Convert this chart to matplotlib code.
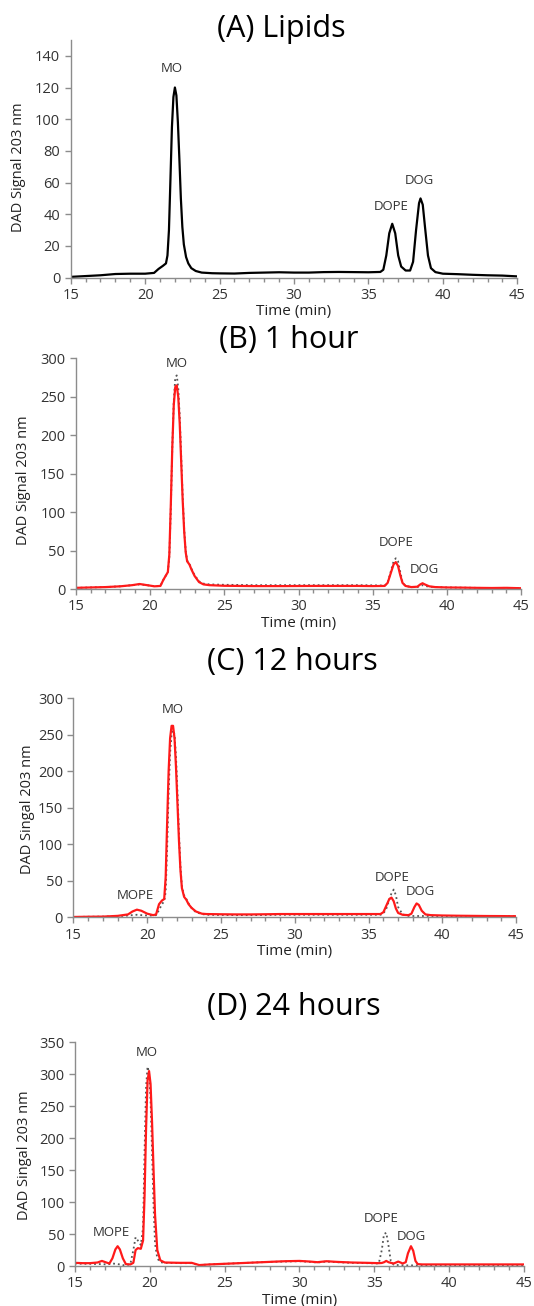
import matplotlib
matplotlib.use("Agg")
import matplotlib.pyplot as plt
from matplotlib.ticker import MultipleLocator

plt.rcParams['font.family'] = ['Open Sans', 'DejaVu Sans']

# (A) lipids, black trace
a_t = [15, 16, 17, 18, 19, 20, 20.6, 20.9, 21.2, 21.4, 21.5, 21.6, 21.7, 21.8, 21.9, 22.0,
       22.1, 22.2, 22.3, 22.4, 22.5, 22.6, 22.75, 22.9, 23.1, 23.4, 23.8, 24.5, 25, 26, 27,
       28, 29, 30, 31, 32, 33, 34, 35, 35.8, 36.0, 36.2, 36.4, 36.6, 36.8, 37.0, 37.2, 37.5,
       37.8, 38.0, 38.2, 38.4, 38.5, 38.65, 38.8, 39.0, 39.2, 39.5, 40, 41, 42, 43, 44, 45]
a_y = [0.5, 1.0, 1.5, 2.3, 2.5, 2.5, 3.0, 5.5, 7.5, 9, 14, 30, 62, 95, 114, 120,
       115, 98, 75, 50, 32, 21, 13, 9, 6, 4.2, 3.2, 2.8, 2.7, 2.6, 3,
       3.2, 3.4, 3.2, 3.2, 3.5, 3.6, 3.5, 3.4, 3.6, 5, 14, 28, 34, 28, 14, 7, 4.5,
       4.5, 10, 30, 47, 50, 46, 32, 14, 6, 3.5, 2.5, 2.2, 1.8, 1.5, 1.3, 0.8]

# (B) 1 hour
b_t = [15, 16, 17, 18, 18.8, 19.3, 19.8, 20.3, 20.7, 20.9, 21.05, 21.2, 21.3, 21.4, 21.5,
       21.6, 21.7, 21.8, 21.9, 22.0, 22.1, 22.2, 22.3, 22.4, 22.5, 22.65, 22.8, 23.0, 23.3,
       23.6, 24, 25, 26, 27, 28, 29, 30, 31, 32, 33, 34, 35, 35.8, 36.0, 36.2, 36.4, 36.55,
       36.7, 36.85, 37.0, 37.2, 37.6, 38.0, 38.2, 38.35, 38.5, 38.8, 39.2, 40, 41, 42, 43, 44, 45]
b_red = [1.5, 2, 2.5, 3.5, 5, 6.5, 5, 3.5, 4, 12, 17, 22, 45, 110, 185,
         240, 263, 265, 250, 215, 165, 115, 75, 48, 36, 32, 25, 17, 9,
         6, 5, 4.2, 4, 3.8, 3.8, 3.8, 3.9, 4, 4, 4, 4, 3.8, 4, 8, 20, 32, 35,
         30, 18, 8, 4, 2.5, 3, 6, 7.5, 6, 3.5, 2.5, 2, 1.8, 1.5, 1.3, 1.5, 1]
b_gray = [1.5, 2, 2.5, 3.5, 5, 6, 5, 3.5, 4, 12, 17, 22, 42, 105, 185,
          245, 275, 278, 262, 225, 172, 120, 78, 50, 37, 33, 26, 18, 10,
          7, 6, 5.5, 5.3, 5, 5, 5, 5, 5, 5, 5, 5, 4.8, 4.5, 8, 22, 36, 40,
          36, 22, 9, 4, 2.5, 2.5, 4, 5, 4, 3, 2.5, 2, 1.8, 1.5, 1.3, 1.5, 1]

# (C) 12 hours
c_t = [15, 16, 17, 18, 18.7, 19.0, 19.3, 19.6, 20.0, 20.4, 20.6, 20.8, 21.0, 21.15, 21.25,
       21.35, 21.45, 21.55, 21.65, 21.75, 21.85, 21.95, 22.05, 22.15, 22.25, 22.35, 22.5, 22.65,
       22.8, 23.0, 23.3, 23.7, 24, 25, 26, 27, 28, 29, 30, 31, 32, 33, 34, 35, 35.8, 36.0,
       36.2, 36.4, 36.55, 36.7, 36.85, 37.0, 37.3, 37.7, 37.9, 38.1, 38.25, 38.4, 38.6, 38.85,
       39.2, 40, 41, 42, 43, 44, 45]
c_red = [0.5, 0.8, 1, 2, 4, 8, 10.5, 9, 5, 3, 4, 18, 23, 25, 55,
         130, 200, 245, 262, 262, 245, 205, 155, 105, 65, 40, 28, 24,
         18, 13, 8, 5, 4.5, 4.2, 4, 4, 4.2, 4.5, 4.5, 4.5, 4.5, 4.5, 4.5, 4.5, 4.5, 7,
         16, 25, 27, 22, 12, 6, 3.5, 3, 5, 14, 19, 17, 9, 4,
         3, 2.5, 2.2, 2, 1.8, 1.7, 1.5]
c_gray = [0.5, 0.8, 1, 1.5, 2.5, 3, 3.5, 3, 2.5, 2.5, 3, 10, 18, 22, 35,
          95, 170, 225, 250, 256, 250, 220, 170, 115, 70, 42, 30, 25,
          19, 13, 7, 4.5, 3.5, 3.2, 3, 3, 3.2, 3.5, 3.5, 3.5, 3.5, 3.5, 3.5, 3.5, 3.5, 5,
          12, 24, 33, 38, 30, 14, 4, 2, 1.8, 1.8, 1.8, 1.8, 1.8, 1.8,
          1.8, 1.8, 1.8, 1.8, 1.8, 1.8, 1.5]

# (D) 24 hours
d_t = [15, 15.5, 16, 16.5, 16.8, 17.1, 17.3, 17.5, 17.7, 17.85, 18.0, 18.2, 18.4, 18.7,
       18.9, 19.05, 19.2, 19.4, 19.55, 19.65, 19.75, 19.85, 19.95, 20.05, 20.15, 20.25, 20.35,
       20.5, 20.7, 21.0, 22, 22.8, 23.3, 24, 25, 26, 27, 28, 29, 30, 30.7, 31.2, 31.8, 32.5,
       33.5, 34.5, 35.3, 35.5, 35.65, 35.8, 35.95, 36.1, 36.3, 36.6, 36.9, 37.1, 37.25, 37.45,
       37.6, 37.75, 37.9, 38.2, 39, 40, 41, 42, 43, 44, 45]
d_red = [5, 4.5, 4.5, 5.5, 8, 5.5, 4, 12, 26, 31, 26, 12, 3, 2.5,
         5, 25, 28, 27, 40, 110, 215, 290, 305, 285, 225, 150, 80,
         25, 9, 5.5, 5, 5, 1.5, 2.5, 3.5, 4.5, 5.5, 6.5, 7.5, 8, 7, 6, 7.5, 6.5,
         5.5, 5, 4.5, 4.8, 6, 8, 6, 5, 4, 7, 4, 6, 20, 31,
         24, 8, 3, 2.5, 2.5, 2.5, 2.5, 2.5, 2.5, 2.5, 2.5]
d_gray = [4, 3.5, 3.5, 3, 3, 2.5, 3, 4, 3.5, 3, 2.5, 1.5, 1, 3,
          25, 45, 40, 33, 60, 180, 280, 312, 302, 260, 180, 95, 35,
          12, 6, 5, 4.5, 4.5, 1.5, 2.5, 3.5, 4.5, 5.5, 6.5, 7, 7.5, 6.5, 5.5, 7, 6,
          5, 4.5, 4, 25, 50, 52, 32, 8, 2, 1.5, 1.2, 1, 1, 1,
          1, 1, 1, 1, 1.2, 1.5, 1.5, 1.5, 1.5, 1.5, 1.5]

panels = [
    # title, title (x frac, y px), rect, ymax, yticks top, ylabel, ylabel pos, traces, peak labels
    ("(A) Lipids", (0.5275, 29), [0.1324, 0.7874, 0.8363, 0.1820], 150, 140, "DAD Signal 203 nm",
     (-0.116, 0.465), [(a_t, a_y, "black", "-")],
     [("MO", 21.8, 132), ("DOPE", 36.5, 45), ("DOG", 38.4, 61)]),
    ("(B) 1 hour", (0.540, 340), [0.1419, 0.5490, 0.8343, 0.1765], 300, 300, "DAD Signal 203 nm",
     (-0.1165, 0.473), [(b_t, b_gray, "#555555", ":"), (b_t, b_red, "#ff1a1a", "-")],
     [("MO", 21.8, 293), ("DOPE", 36.6, 61), ("DOG", 38.5, 26)]),
    ("(C) 12 hours", (0.547, 662), [0.1375, 0.2976, 0.8292, 0.1679], 300, 300, "DAD Singal 203 nm",
     (-0.104, 0.494), [(c_t, c_gray, "#555555", ":"), (c_t, c_red, "#ff1a1a", "-")],
     [("MO", 21.7, 285), ("MOPE", 19.2, 30), ("DOPE", 36.6, 55), ("DOG", 38.5, 36)]),
    ("(D) 24 hours", (0.550, 1007), [0.1404, 0.0306, 0.8408, 0.1713], 350, 350, "DAD Singal 203 nm",
     (-0.112, 0.494), [(d_t, d_gray, "#555555", ":"), (d_t, d_red, "#ff1a1a", "-")],
     [("MO", 19.8, 334), ("MOPE", 17.4, 53), ("DOPE", 35.45, 75), ("DOG", 37.5, 46)]),
]

H = 1306
fig = plt.figure(figsize=(5.34, 13.06), dpi=100)

for title, (tx, ty), rect, ymax, ytop, ylab, ylpos, traces, labels in panels:
    ax = fig.add_axes(rect)
    for t, y, col, ls in traces:
        if ls == ":":
            ax.plot(t, y, color=col, linestyle=ls, linewidth=1.3)
        else:
            ax.plot(t, y, color=col, linestyle=ls, linewidth=1.6)
    ax.set_xlim(15, 45)
    ax.set_ylim(0, ymax)
    ax.xaxis.set_major_locator(MultipleLocator(5))
    ax.xaxis.set_minor_locator(MultipleLocator(1))
    step = 20 if ymax == 150 else 50
    ax.set_yticks(range(0, ytop + 1, step))
    for s in ["top", "right"]:
        ax.spines[s].set_visible(False)
    for s in ["left", "bottom"]:
        ax.spines[s].set_color("#8c8c8c")
        ax.spines[s].set_linewidth(1.0)
    ax.tick_params(axis="both", which="major", colors="#8c8c8c", labelcolor="#333333",
                   labelsize=10.5, length=4, width=1)
    ax.tick_params(axis="x", which="minor", colors="#8c8c8c", length=3, width=1)
    ax.set_xlabel("Time (min)", fontsize=11, color="#222222", labelpad=1)
    ax.set_ylabel(ylab, fontsize=10.5, color="#222222", va="center")
    ax.yaxis.set_label_coords(*ylpos)
    for txt, x, y in labels:
        ax.text(x, y, txt, ha="center", va="center", fontsize=9.5, color="#333333")
    fig.text(tx, 1 - ty / H, title, ha="center", va="center", fontsize=22, color="black")

fig.savefig("out.png", dpi=100)
